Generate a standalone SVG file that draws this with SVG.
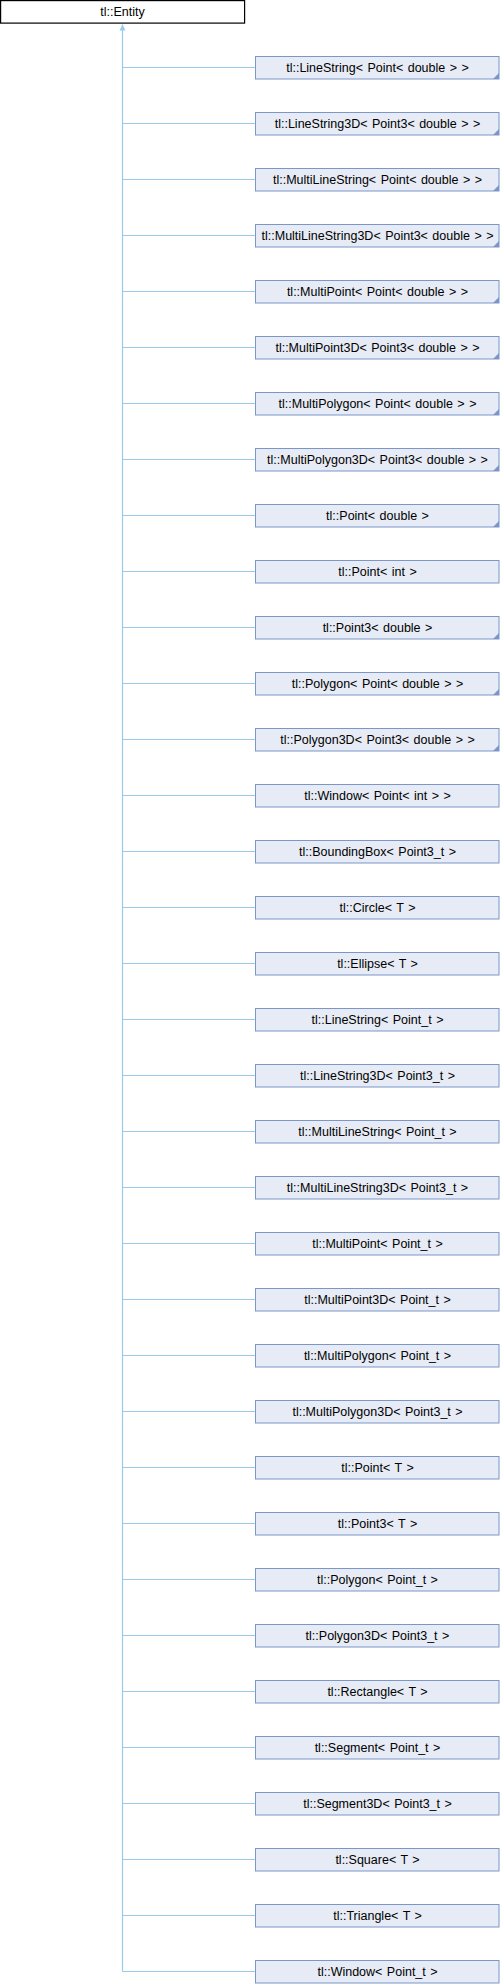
<svg xmlns="http://www.w3.org/2000/svg" width="500" height="1984" viewBox="0 0 500 1984">
<style>
.n rect{fill:#e6ebf5;stroke:#7b96c9;stroke-width:1}
.n text,.root text{font-family:"Liberation Sans",Arial,sans-serif;font-size:12.5px;word-spacing:1px;fill:#000;text-anchor:middle}
.root rect{fill:#fff;stroke:#000;stroke-width:1.2}
.c{stroke:#99cbe8;stroke-width:1.2;fill:none}
.t{fill:#7b96c9}
</style>
<defs>
<marker id="ah" markerWidth="7" markerHeight="7" refX="6" refY="3" orient="auto" markerUnits="userSpaceOnUse" viewBox="0 0 7 6">
<path d="M0,0 L6,3 L0,6 Z" fill="#99cbe8"/>
</marker>
</defs>
<g id="connectors">
<path class="c" d="M122.5,1971.5 V24.5" marker-end="url(#ah)"/>
<path class="c" d="M122.5,67.5H255.5M122.5,123.5H255.5M122.5,179.5H255.5M122.5,235.5H255.5M122.5,291.5H255.5M122.5,347.5H255.5M122.5,403.5H255.5M122.5,459.5H255.5M122.5,515.5H255.5M122.5,571.5H255.5M122.5,627.5H255.5M122.5,683.5H255.5M122.5,739.5H255.5M122.5,795.5H255.5M122.5,851.5H255.5M122.5,907.5H255.5M122.5,963.5H255.5M122.5,1019.5H255.5M122.5,1075.5H255.5M122.5,1131.5H255.5M122.5,1187.5H255.5M122.5,1243.5H255.5M122.5,1299.5H255.5M122.5,1355.5H255.5M122.5,1411.5H255.5M122.5,1467.5H255.5M122.5,1523.5H255.5M122.5,1579.5H255.5M122.5,1635.5H255.5M122.5,1691.5H255.5M122.5,1747.5H255.5M122.5,1803.5H255.5M122.5,1859.5H255.5M122.5,1915.5H255.5M122.5,1971.5H255.5"/>
</g>
<g id="entity" class="root"><rect x="0.6" y="0.6" width="244" height="22.5"/><text x="122.5" y="16">tl::Entity</text></g>
<g id="n0" class="n"><rect x="255.5" y="56.5" width="243.5" height="22.5"/><text x="377.5" y="72">tl::LineString&lt; Point&lt; double &gt; &gt;</text><path class="t" d="M499,73 V79 H493 Z"/></g>
<g id="n1" class="n"><rect x="255.5" y="112.5" width="243.5" height="22.5"/><text x="377.5" y="128">tl::LineString3D&lt; Point3&lt; double &gt; &gt;</text><path class="t" d="M499,129 V135 H493 Z"/></g>
<g id="n2" class="n"><rect x="255.5" y="168.5" width="243.5" height="22.5"/><text x="377.5" y="184">tl::MultiLineString&lt; Point&lt; double &gt; &gt;</text><path class="t" d="M499,185 V191 H493 Z"/></g>
<g id="n3" class="n"><rect x="255.5" y="224.5" width="243.5" height="22.5"/><text x="377.5" y="240">tl::MultiLineString3D&lt; Point3&lt; double &gt; &gt;</text><path class="t" d="M499,241 V247 H493 Z"/></g>
<g id="n4" class="n"><rect x="255.5" y="280.5" width="243.5" height="22.5"/><text x="377.5" y="296">tl::MultiPoint&lt; Point&lt; double &gt; &gt;</text><path class="t" d="M499,297 V303 H493 Z"/></g>
<g id="n5" class="n"><rect x="255.5" y="336.5" width="243.5" height="22.5"/><text x="377.5" y="352">tl::MultiPoint3D&lt; Point3&lt; double &gt; &gt;</text><path class="t" d="M499,353 V359 H493 Z"/></g>
<g id="n6" class="n"><rect x="255.5" y="392.5" width="243.5" height="22.5"/><text x="377.5" y="408">tl::MultiPolygon&lt; Point&lt; double &gt; &gt;</text><path class="t" d="M499,409 V415 H493 Z"/></g>
<g id="n7" class="n"><rect x="255.5" y="448.5" width="243.5" height="22.5"/><text x="377.5" y="464">tl::MultiPolygon3D&lt; Point3&lt; double &gt; &gt;</text><path class="t" d="M499,465 V471 H493 Z"/></g>
<g id="n8" class="n"><rect x="255.5" y="504.5" width="243.5" height="22.5"/><text x="377.5" y="520">tl::Point&lt; double &gt;</text><path class="t" d="M499,521 V527 H493 Z"/></g>
<g id="n9" class="n"><rect x="255.5" y="560.5" width="243.5" height="22.5"/><text x="377.5" y="576">tl::Point&lt; int &gt;</text></g>
<g id="n10" class="n"><rect x="255.5" y="616.5" width="243.5" height="22.5"/><text x="377.5" y="632">tl::Point3&lt; double &gt;</text><path class="t" d="M499,633 V639 H493 Z"/></g>
<g id="n11" class="n"><rect x="255.5" y="672.5" width="243.5" height="22.5"/><text x="377.5" y="688">tl::Polygon&lt; Point&lt; double &gt; &gt;</text><path class="t" d="M499,689 V695 H493 Z"/></g>
<g id="n12" class="n"><rect x="255.5" y="728.5" width="243.5" height="22.5"/><text x="377.5" y="744">tl::Polygon3D&lt; Point3&lt; double &gt; &gt;</text><path class="t" d="M499,745 V751 H493 Z"/></g>
<g id="n13" class="n"><rect x="255.5" y="784.5" width="243.5" height="22.5"/><text x="377.5" y="800">tl::Window&lt; Point&lt; int &gt; &gt;</text></g>
<g id="n14" class="n"><rect x="255.5" y="840.5" width="243.5" height="22.5"/><text x="377.5" y="856">tl::BoundingBox&lt; Point3_t &gt;</text></g>
<g id="n15" class="n"><rect x="255.5" y="896.5" width="243.5" height="22.5"/><text x="377.5" y="912">tl::Circle&lt; T &gt;</text></g>
<g id="n16" class="n"><rect x="255.5" y="952.5" width="243.5" height="22.5"/><text x="377.5" y="968">tl::Ellipse&lt; T &gt;</text></g>
<g id="n17" class="n"><rect x="255.5" y="1008.5" width="243.5" height="22.5"/><text x="377.5" y="1024">tl::LineString&lt; Point_t &gt;</text></g>
<g id="n18" class="n"><rect x="255.5" y="1064.5" width="243.5" height="22.5"/><text x="377.5" y="1080">tl::LineString3D&lt; Point3_t &gt;</text></g>
<g id="n19" class="n"><rect x="255.5" y="1120.5" width="243.5" height="22.5"/><text x="377.5" y="1136">tl::MultiLineString&lt; Point_t &gt;</text></g>
<g id="n20" class="n"><rect x="255.5" y="1176.5" width="243.5" height="22.5"/><text x="377.5" y="1192">tl::MultiLineString3D&lt; Point3_t &gt;</text></g>
<g id="n21" class="n"><rect x="255.5" y="1232.5" width="243.5" height="22.5"/><text x="377.5" y="1248">tl::MultiPoint&lt; Point_t &gt;</text></g>
<g id="n22" class="n"><rect x="255.5" y="1288.5" width="243.5" height="22.5"/><text x="377.5" y="1304">tl::MultiPoint3D&lt; Point_t &gt;</text></g>
<g id="n23" class="n"><rect x="255.5" y="1344.5" width="243.5" height="22.5"/><text x="377.5" y="1360">tl::MultiPolygon&lt; Point_t &gt;</text></g>
<g id="n24" class="n"><rect x="255.5" y="1400.5" width="243.5" height="22.5"/><text x="377.5" y="1416">tl::MultiPolygon3D&lt; Point3_t &gt;</text></g>
<g id="n25" class="n"><rect x="255.5" y="1456.5" width="243.5" height="22.5"/><text x="377.5" y="1472">tl::Point&lt; T &gt;</text></g>
<g id="n26" class="n"><rect x="255.5" y="1512.5" width="243.5" height="22.5"/><text x="377.5" y="1528">tl::Point3&lt; T &gt;</text></g>
<g id="n27" class="n"><rect x="255.5" y="1568.5" width="243.5" height="22.5"/><text x="377.5" y="1584">tl::Polygon&lt; Point_t &gt;</text></g>
<g id="n28" class="n"><rect x="255.5" y="1624.5" width="243.5" height="22.5"/><text x="377.5" y="1640">tl::Polygon3D&lt; Point3_t &gt;</text></g>
<g id="n29" class="n"><rect x="255.5" y="1680.5" width="243.5" height="22.5"/><text x="377.5" y="1696">tl::Rectangle&lt; T &gt;</text></g>
<g id="n30" class="n"><rect x="255.5" y="1736.5" width="243.5" height="22.5"/><text x="377.5" y="1752">tl::Segment&lt; Point_t &gt;</text></g>
<g id="n31" class="n"><rect x="255.5" y="1792.5" width="243.5" height="22.5"/><text x="377.5" y="1808">tl::Segment3D&lt; Point3_t &gt;</text></g>
<g id="n32" class="n"><rect x="255.5" y="1848.5" width="243.5" height="22.5"/><text x="377.5" y="1864">tl::Square&lt; T &gt;</text></g>
<g id="n33" class="n"><rect x="255.5" y="1904.5" width="243.5" height="22.5"/><text x="377.5" y="1920">tl::Triangle&lt; T &gt;</text></g>
<g id="n34" class="n"><rect x="255.5" y="1960.5" width="243.5" height="22.5"/><text x="377.5" y="1976">tl::Window&lt; Point_t &gt;</text></g>
</svg>
